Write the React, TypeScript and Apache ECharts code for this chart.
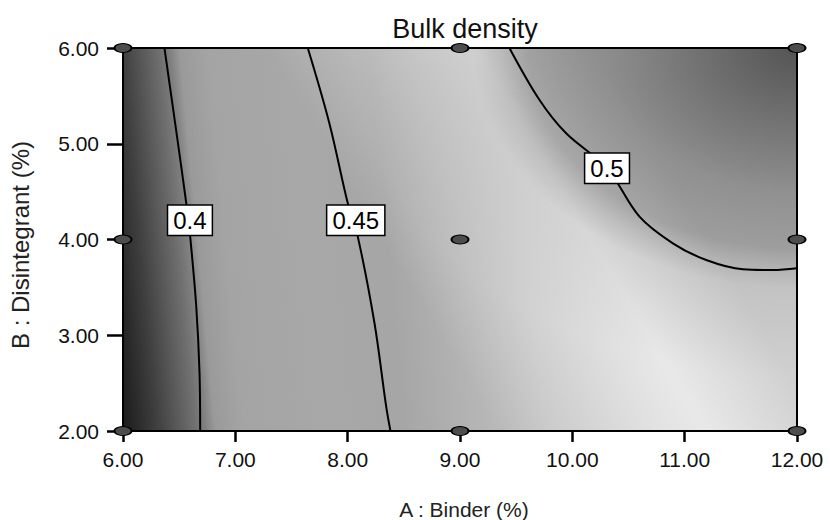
import React, { useEffect, useRef } from "react";
import * as echarts from "echarts";

// ---- data ----
const xTickLabels = ["6.00", "7.00", "8.00", "9.00", "10.00", "11.00", "12.00"];
const yTickLabels = ["2.00", "3.00", "4.00", "5.00", "6.00"];

// factor ranges (A: Binder %, B: Disintegrant %)
const responseArea = [[6, 2, 12, 6]];

// design points of the experiment
const designPoints = [
  [6, 2], [6, 4], [6, 6],
  [9, 2], [9, 4], [9, 6],
  [12, 2], [12, 4], [12, 6],
];

// contour lines of bulk density
const contour040 = [
  [6.369, 6.0], [6.485, 5.04], [6.563, 4.38], [6.598, 4.03],
  [6.652, 3.3], [6.681, 2.61], [6.687, 2.0],
];
const contour045 = [
  [7.645, 6.0], [7.838, 5.21], [8.001, 4.378], [8.09, 4.03],
  [8.239, 3.125], [8.343, 2.254], [8.381, 2.0],
];
const contour050 = [
  [9.44, 6.0], [9.708, 5.457], [9.945, 5.109], [10.309, 4.743],
  [10.598, 4.238], [10.895, 3.96], [11.192, 3.786], [11.518, 3.689],
  [11.785, 3.681], [12.0, 3.7],
];

// contour labels [A, B, text]
const contourLabels = [
  [6.596, 4.2, "0.4"],
  [8.072, 4.2, "0.45"],
  [10.309, 4.743, "0.5"],
];

// ---- styles ----
const FONT = "'Liberation Sans', Arial, Helvetica, sans-serif";
const BASE_LEN = 710;
const baseStops: [number, string][] = [
  [0, "#1c1c1c"], [15, "#2a2a2a"], [35, "#404040"], [55, "#5a5a5a"],
  [72, "#707070"], [82, "#808080"], [92, "#9a9a9a"], [120, "#a4a4a4"],
  [200, "#a8a8a8"], [280, "#a6a6a6"], [330, "#b0b0b0"], [420, "#c2c2c2"],
  [540, "#d0d0d0"], [710, "#d0d0d0"],
];
const bandA = [9.15, 6];
const bandB = [11.2, 2];
const DARK_K = 1.35;
const DARK_R = 330;
const darkStops: [number, number][] = [
  [0, 0.66], [83, 0.48], [124, 0.39], [144, 0.34], [200, 0.27],
  [218, 0.17], [240, 0.07], [290, 0.03], [330, 0],
];

function renderShading(params: any, api: any) {
  const bl = api.coord([api.value(0), api.value(1)]);
  const tr = api.coord([api.value(2), api.value(3)]);
  const x = bl[0];
  const y = tr[1];
  const w = tr[0] - bl[0];
  const h = bl[1] - tr[1];

  // base gradient perpendicular to the 0.4 contour
  const t0 = api.coord(contour040[0]);
  const t1 = api.coord(contour040[contour040.length - 1]);
  const dx = t1[0] - t0[0];
  const dy = t1[1] - t0[1];
  const dl = Math.hypot(dx, dy);
  const mx = dy / dl;
  const my = -dx / dl;
  const base = new echarts.graphic.LinearGradient(
    bl[0], bl[1], bl[0] + mx * BASE_LEN, bl[1] + my * BASE_LEN,
    baseStops.map(([s, c]) => ({ offset: s / BASE_LEN, color: c })),
    true
  );

  // light diagonal band
  const A = api.coord(bandA);
  const B = api.coord(bandB);
  const bx = B[0] - A[0];
  const by = B[1] - A[1];
  const bln = Math.hypot(bx, by);
  const nx = by / bln;
  const ny = -bx / bln;
  const band = new echarts.graphic.LinearGradient(
    A[0] - nx * 180, A[1] - ny * 180, A[0] + nx * 100, A[1] + ny * 100,
    [
      { offset: 0, color: "rgba(255,255,255,0)" },
      { offset: 0.643, color: "rgba(255,255,255,0.52)" },
      { offset: 1, color: "rgba(255,255,255,0)" },
    ],
    true
  );

  // dark top-right corner (elliptical, stretched horizontally)
  const dark = new echarts.graphic.RadialGradient(
    0, 0, DARK_R,
    darkStops.map(([d, a]) => ({ offset: d / DARK_R, color: `rgba(20,20,20,${a})` })),
    true
  );

  const shape = { x, y, width: w, height: h };
  return {
    type: "group",
    children: [
      { type: "rect", shape, style: { fill: base } },
      { type: "rect", shape, style: { fill: band } },
      {
        type: "rect",
        x: tr[0],
        y: tr[1],
        scaleX: DARK_K,
        shape: { x: -w / DARK_K, y: 0, width: w / DARK_K, height: h },
        style: { fill: dark },
      },
    ],
  };
}

const contourLine = (name: string, data: number[][]) => ({
  name,
  type: "line",
  data,
  z: 3,
  smooth: 0.35,
  showSymbol: false,
  symbol: "none",
  silent: true,
  clip: false,
  lineStyle: { color: "#000", width: 2, opacity: 1 },
});

export default function App() {
  const ref = useRef<HTMLDivElement>(null);

  useEffect(() => {
    if (!ref.current) return;
    const chart = echarts.init(ref.current, null, { renderer: "svg" });
    const axisLine = { show: true, lineStyle: { color: "#000", width: 2 } };
    chart.setOption({
      animation: false,
      backgroundColor: "#fff",
      textStyle: { fontFamily: FONT },
      title: {
        text: "Bulk density",
        left: 460,
        top: 10,
        textAlign: "center",
        textStyle: { fontSize: 27, fontWeight: "normal", color: "#111", fontFamily: FONT },
      },
      grid: {
        left: 123,
        top: 48,
        width: 674,
        height: 383,
        containLabel: false,
        outerBoundsMode: "none",
      },
      xAxis: [
        {
          type: "value",
          min: 6,
          max: 12,
          interval: 1,
          position: "bottom",
          z: 5,
          axisLine,
          axisTick: { show: true, length: 11, lineStyle: { color: "#000", width: 2.5 } },
          axisLabel: {
            formatter: (v: number) => xTickLabels[Math.round(v - 6)] ?? v.toFixed(2),
            fontSize: 21,
            color: "#111",
            margin: 18,
            fontFamily: FONT,
          },
          splitLine: { show: false },
          name: "A : Binder (%)",
          nameLocation: "middle",
          nameGap: 68,
          nameTextStyle: { fontSize: 21, color: "#222", fontFamily: FONT, padding: [0, 0, 0, 8] },
        },
        {
          type: "value",
          min: 6,
          max: 12,
          position: "top",
          z: 5,
          axisLine,
          axisTick: { show: false },
          axisLabel: { show: false },
          splitLine: { show: false },
        },
      ],
      yAxis: [
        {
          type: "value",
          min: 2,
          max: 6,
          interval: 1,
          position: "left",
          z: 5,
          axisLine,
          axisTick: { show: true, length: 16, lineStyle: { color: "#000", width: 2.5 } },
          axisLabel: {
            formatter: (v: number) => yTickLabels[Math.round(v - 2)] ?? v.toFixed(2),
            fontSize: 21,
            color: "#111",
            margin: 24,
            fontFamily: FONT,
          },
          splitLine: { show: false },
          name: "B : Disintegrant (%)",
          nameLocation: "middle",
          nameGap: 91,
          nameTextStyle: { fontSize: 24, color: "#222", fontFamily: FONT, padding: [0, 11, 0, 0] },
        },
        {
          type: "value",
          min: 2,
          max: 6,
          position: "right",
          z: 5,
          axisLine,
          axisTick: { show: false },
          axisLabel: { show: false },
          splitLine: { show: false },
        },
      ],
      series: [
        {
          name: "shading",
          type: "custom",
          z: 1,
          silent: true,
          clip: false,
          data: responseArea,
          encode: { x: [0, 2], y: [1, 3] },
          renderItem: renderShading,
        },
        contourLine("0.4", contour040),
        contourLine("0.45", contour045),
        contourLine("0.5", contour050),
        {
          name: "contour labels",
          type: "scatter",
          z: 4,
          silent: true,
          clip: false,
          symbolSize: 0,
          data: contourLabels,
          encode: { x: 0, y: 1 },
          itemStyle: { opacity: 1 },
          label: {
            show: true,
            position: "inside",
            formatter: (p: any) => p.value[2],
            fontSize: 24,
            lineHeight: 26,
            color: "#000",
            opacity: 1,
            fontFamily: FONT,
            backgroundColor: "#fff",
            borderColor: "#000",
            borderWidth: 1.5,
            padding: [2, 5, 1, 5],
          },
        },
        {
          name: "design points",
          type: "scatter",
          z: 6,
          silent: true,
          clip: false,
          symbol: "circle",
          symbolSize: [17, 9],
          data: designPoints,
          itemStyle: { color: "#4d4d4d", borderColor: "#000", borderWidth: 1.5, opacity: 1 },
        },
      ],
    });
    return () => chart.dispose();
  }, []);

  return (
    <div
      ref={ref}
      style={{ position: "absolute", left: 0, top: 0, width: 830, height: 520 }}
    />
  );
}
